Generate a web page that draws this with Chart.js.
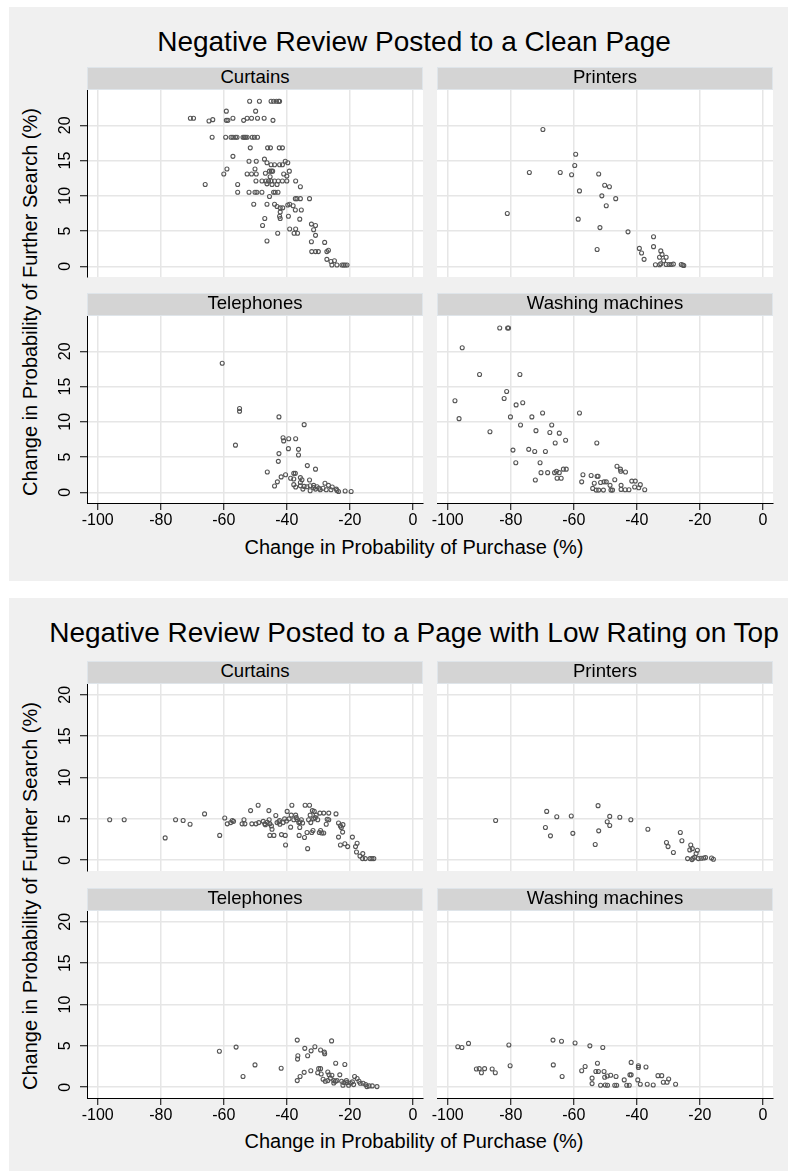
<!DOCTYPE html>
<html>
<head>
<meta charset="utf-8">
<script src="https://cdn.jsdelivr.net/npm/chart.js@4.4.1/dist/chart.umd.min.js"></script>
<style>
  html, body { margin: 0; padding: 0; background: #fff; }
  body { position: relative; width: 788px; height: 1171px; overflow: hidden; font-family: "Liberation Sans", Arial, sans-serif; color: #000; }
  .box { position: absolute; background: #f0f0f0; }
  .title { position: absolute; font-size: 28px; line-height: 28px; white-space: nowrap; transform: translateX(-50%); }
  .strip { position: absolute; box-sizing: border-box; background: #d4d4d4; border: 1px solid #dfe5ea; font-size: 18.6px; line-height: 17px; text-align: center; white-space: nowrap; }
  .xtitle { position: absolute; font-size: 20px; line-height: 20px; white-space: nowrap; transform: translateX(-50%); }
  .ytitle { position: absolute; font-size: 20px; line-height: 20px; white-space: nowrap; transform: translate(-50%, -50%) rotate(-90deg); }
  canvas { position: absolute; }
</style>
</head>
<body>
<script>
const figureTitles = ['Negative Review Posted to a Clean Page', 'Negative Review Posted to a Page with Low Rating on Top'];
const categories = ['Curtains', 'Printers', 'Telephones', 'Washing machines'];
const xTitle = 'Change in Probability of Purchase (%)';
const yTitle = 'Change in Probability of Further Search (%)';
const xTicks = [-100, -80, -60, -40, -20, 0];
const yTicks = [0, 5, 10, 15, 20];

// points are [change in purchase, change in further search]
const cleanCurtains = [
  [-51.8,23.4],[-48.7,23.4],[-45.0,23.4],[-44.2,23.4],[-43.3,23.4],[-42.6,23.4],[-42.3,23.4],
  [-59.2,22.0],[-49.9,22.0],
  [-70.6,21.0],[-69.6,21.0],[-64.7,20.6],[-63.5,20.8],[-59.2,20.7],[-58.7,20.7],[-57.1,21.0],[-53.7,20.7],
  [-52.6,21.0],[-51.2,21.0],[-49.3,21.0],[-47.2,21.0],[-44.4,20.7],
  [-63.7,18.3],[-59.4,18.3],[-57.7,18.3],[-57.1,18.3],[-56.3,18.3],[-55.8,18.3],[-53.9,18.3],[-53.5,18.3],
  [-53.1,18.3],[-52.6,18.3],[-51.0,18.3],[-50.3,18.3],[-49.3,18.3],
  [-51.6,16.8],[-46.1,16.8],[-45.2,16.8],[-42.4,16.8],[-41.4,16.8],
  [-57.1,15.6],
  [-52.0,14.9],[-49.7,14.9],[-47.1,15.2],[-46.3,14.7],[-45.0,14.4],[-43.9,14.4],[-42.3,14.4],[-41.4,14.4],
  [-40.5,14.9],[-39.7,14.7],
  [-59.0,13.8],[-50.1,13.8],
  [-60.0,13.1],[-52.6,13.1],[-51.2,13.1],[-49.7,13.1],[-46.8,13.2],[-45.5,13.5],[-44.9,13.5],[-44.5,13.5],
  [-45.3,12.7],[-41.0,13.1],[-40.0,12.8],[-39.2,13.5],
  [-49.8,12.1],[-47.9,12.1],[-46.6,12.1],[-45.8,12.1],[-45.0,12.1],[-43.9,12.1],[-42.7,12.1],[-41.4,12.1],
  [-40.0,12.1],[-37.2,12.1],
  [-65.9,11.6],[-55.6,11.6],[-46.3,11.7],[-44.7,11.6],[-43.1,11.6],[-35.7,11.3],
  [-55.6,10.5],[-52.0,10.5],[-50.1,10.5],[-49.5,10.5],[-47.9,10.5],[-44.2,10.5],[-43.7,10.5],[-42.8,10.5],
  [-45.5,9.9],
  [-37.3,9.6],[-36.8,9.6],[-35.7,9.6],[-32.8,9.6],
  [-50.5,8.8],[-46.3,8.8],[-43.9,8.8],[-43.1,8.5],[-42.1,8.3],[-41.3,8.3],[-39.7,8.7],[-39.1,8.8],[-38.0,8.6],
  [-37.3,8.0],[-35.4,8.0],[-42.1,7.7],
  [-42.3,7.1],[-42.1,6.8],[-39.5,7.1],[-47.0,6.8],
  [-35.9,6.7],
  [-32.2,6.0],[-47.7,5.8],[-30.9,5.8],
  [-39.1,5.3],[-37.2,5.3],[-31.5,5.2],
  [-42.9,4.7],[-37.7,4.7],[-36.6,4.7],[-30.9,4.4],
  [-46.3,3.6],[-32.2,3.5],[-28.0,3.4],
  [-32.1,2.1],[-30.9,2.1],[-30.0,2.1],[-27.3,2.1],[-26.8,2.3],
  [-27.3,1.0],[-26.0,0.7],[-24.9,0.8],
  [-25.7,0.2],[-24.1,0.2],[-22.5,0.2],[-22.0,0.2],[-21.5,0.2],[-20.9,0.2]
];
const cleanPrinters = [
  [-69.8,19.4],[-59.4,15.9],[-59.7,14.3],[-74.1,13.3],[-64.3,13.3],[-60.7,13.0],[-52.1,13.1],
  [-50.2,11.5],[-48.7,11.3],[-58.2,10.7],[-51.1,10.0],[-46.7,9.6],[-49.7,8.6],[-81.1,7.5],
  [-58.6,6.7],[-51.7,5.5],[-42.8,4.9],[-34.7,4.2],[-34.7,2.8],[-52.6,2.4],[-39.2,2.55],
  [-38.5,1.9],[-37.7,1.0],[-32.4,2.2],[-32.0,1.7],[-32.8,1.3],[-30.7,1.3],[-31.5,0.8],
  [-34.1,0.24],[-32.8,0.24],[-32.4,0.38],[-30.7,0.28],[-29.8,0.28],[-29.1,0.28],[-28.4,0.33],
  [-25.9,0.28],[-25.4,0.2],[-25.1,0.14]
];
const cleanTelephones = [
  [-60.5,18.3],[-55.0,11.9],[-55.0,11.5],[-42.5,10.7],[-34.5,9.6],[-56.3,6.7],[-41.2,7.75],
  [-41.0,7.3],[-39.4,7.6],[-37.2,7.6],[-39.5,6.2],[-36.3,6.1],[-36.3,5.3],[-42.5,5.5],[-42.7,4.4],
  [-33.5,3.8],[-30.9,3.3],[-46.2,2.9],[-37.8,2.7],[-37.3,2.7],[-40.4,2.5],[-41.8,2.2],[-38.8,2.0],
  [-37.8,1.9],[-35.7,2.1],[-35.2,1.8],[-32.8,1.75],[-43.0,1.5],[-43.9,0.9],[-37.8,1.1],[-37.2,0.76],
  [-35.7,0.95],[-34.5,0.85],[-33.6,0.8],[-32.6,0.95],[-31.5,0.7],[-30.4,0.8],[-34.9,0.47],[-32.6,0.24],
  [-30.9,0.47],[-29.8,0.6],[-29.4,0.38],[-28.5,0.6],[-27.9,1.3],[-26.8,1.0],[-25.6,0.76],[-27.5,0.38],
  [-26.0,0.38],[-24.3,0.47],[-24.1,0.28],[-23.6,0.14],[-21.5,0.2],[-19.6,0.14],[-35.7,1.4],[-31.5,1.0]
];
const cleanWashers = [
  [-83.5,23.3],[-81.0,23.3],[-80.7,23.3],[-95.4,20.5],[-89.9,16.7],[-77.1,16.7],[-81.3,14.3],
  [-82.1,13.3],[-97.7,13.0],[-78.3,12.4],[-76.2,12.7],[-69.9,11.25],[-58.2,11.25],[-80.1,10.7],
  [-73.3,10.7],[-96.4,10.45],[-76.9,9.55],[-67.0,9.55],[-86.6,8.6],[-72.0,8.75],[-67.6,8.5],
  [-64.6,8.4],[-62.6,7.4],[-65.9,7.0],[-52.7,7.0],[-79.3,6.0],[-74.3,6.1],[-72.4,5.8],[-69.0,5.8],
  [-78.4,4.2],[-70.7,4.2],[-46.3,3.7],[-45.2,3.3],[-45.1,3.0],[-43.6,2.9],[-63.3,3.3],[-62.4,3.3],
  [-70.4,2.8],[-68.3,2.8],[-66.1,2.8],[-65.5,3.0],[-64.6,2.8],[-65.3,2.0],[-64.0,2.0],[-72.2,1.75],
  [-57.1,2.5],[-57.5,1.5],[-54.5,2.4],[-52.6,2.3],[-52.3,2.3],[-53.5,1.3],[-51.5,1.4],[-50.4,1.5],
  [-49.7,1.5],[-47.0,1.8],[-48.5,1.0],[-45.0,1.0],[-41.6,1.6],[-40.5,1.6],[-38.9,1.1],[-40.7,0.76],
  [-39.4,0.66],[-37.5,0.38],[-54.0,0.57],[-52.9,0.33],[-52.1,0.33],[-50.6,0.33],[-48.2,0.33],
  [-47.7,0.33],[-45.0,0.43],[-43.7,0.38],[-42.5,0.38]
];
const lowCurtains = [
  [-96.2,4.9],[-91.6,4.9],[-78.6,2.7],[-75.3,4.9],[-72.9,4.8],[-70.7,4.35],[-66.1,5.6],[-61.3,3.0],
  [-59.7,5.1],[-58.9,4.4],[-57.8,4.55],[-57.3,4.8],[-56.9,4.7],[-54.2,4.4],[-53.6,4.9],[-53.3,4.4],
  [-51.5,6.0],[-51.1,4.4],[-49.8,4.4],[-49.1,6.65],[-48.9,4.55],[-47.0,4.4],[-46.2,4.6],[-45.7,6.0],
  [-45.6,4.9],[-45.4,4.4],[-44.9,4.15],[-44.7,3.75],[-45.4,3.0],[-44.1,3.0],[-43.5,5.4],[-43.1,4.55],
  [-42.3,4.8],[-42.2,4.35],[-41.7,3.1],[-40.5,3.0],[-40.4,1.85],[-40.7,5.0],[-39.9,5.9],[-39.3,5.0],
  [-38.6,5.45],[-38.4,6.65],[-38.8,4.0],[-37.8,4.9],[-37.2,5.45],[-36.7,4.9],[-36.2,4.55],[-35.9,3.95],
  [-36.1,3.0],[-35.4,4.9],[-35.0,4.5],[-34.4,2.75],[-34.2,6.65],[-33.6,3.35],[-33.4,1.4],[-32.8,6.65],
  [-32.6,5.45],[-32.4,4.55],[-31.9,6.0],[-31.5,5.0],[-31.7,3.6],[-32.1,3.35],[-31.3,5.9],[-30.7,5.45],
  [-30.2,4.9],[-29.7,3.35],[-29.3,3.6],[-28.9,3.3],[-29.5,5.7],[-28.3,5.7],[-27.5,4.35],[-27.2,4.95],
  [-26.7,5.7],[-26.7,4.9],[-28.3,3.3],[-24.4,5.6],[-23.6,4.5],[-23.0,4.15],[-22.2,4.3],[-22.3,3.4],
  [-22.7,3.95],[-23.6,2.8],[-23.0,1.85],[-21.6,2.0],[-20.7,1.65],[-19.2,2.8],[-17.7,2.05],[-18.2,1.65],
  [-17.9,1.0],[-16.8,0.5],[-15.9,0.8],[-16.0,0.2],[-15.1,0.2],[-13.6,0.2],[-13.0,0.2],[-12.4,0.2],
  [-47.5,4.7],[-46.8,4.3],[-42.5,4.65],[-41.2,4.55],[-40.1,4.75],[-37.0,5.15],[-35.9,4.65],[-33.1,4.9],
  [-31.0,5.15]
];
const lowPrinters = [
  [-84.8,4.8],[-68.6,5.9],[-69.0,3.95],[-67.4,2.95],[-65.4,5.25],[-60.8,5.35],[-60.3,3.25],[-53.2,1.9],
  [-52.3,6.6],[-52.1,3.55],[-49.4,4.65],[-48.6,5.3],[-48.6,4.2],[-45.4,5.2],[-41.9,4.9],[-36.5,3.75],
  [-30.6,2.15],[-30.1,1.65],[-28.4,0.93],[-26.2,3.35],[-25.7,2.35],[-23.9,0.2],[-22.9,1.85],[-23.2,1.25],
  [-22.4,1.4],[-22.5,0.08],[-21.7,0.36],[-21.2,0.8],[-20.8,1.2],[-20.5,0.2],[-19.6,0.24],[-18.8,0.28],
  [-18.2,0.32],[-16.3,0.28],[-15.7,0.12],[-22.2,0.24]
];
const lowTelephones = [
  [-61.4,4.35],[-56.1,4.85],[-53.9,1.3],[-50.1,2.7],[-41.8,2.3],[-36.7,5.7],[-36.5,3.8],[-36.6,3.4],
  [-34.3,4.7],[-33.4,3.8],[-32.3,4.4],[-31.1,4.9],[-29.3,4.5],[-28.1,4.25],[-28.0,4.05],[-25.8,5.6],
  [-24.5,2.9],[-21.6,2.75],[-36.7,0.8],[-35.8,1.3],[-34.5,1.8],[-32.4,2.0],[-30.2,1.75],[-29.9,2.25],
  [-29.3,2.25],[-29.1,1.6],[-28.5,0.97],[-27.8,0.73],[-27.0,1.85],[-26.6,1.5],[-26.2,1.1],[-25.7,1.45],
  [-25.1,0.52],[-24.6,0.73],[-24.1,0.8],[-23.2,1.5],[-22.6,0.73],[-21.9,0.56],[-22.2,0.24],[-21.1,0.8],
  [-20.9,0.56],[-20.4,0.24],[-19.8,0.52],[-19.2,0.65],[-18.8,0.32],[-18.5,1.3],[-17.7,1.05],[-17.1,0.73],
  [-16.7,0.48],[-15.8,0.48],[-15.0,0.32],[-14.6,0.08],[-13.9,0.16],[-12.9,0.16],[-11.4,0.08],[-27.0,0.8],
  [-25.1,0.8]
];
const lowWashers = [
  [-96.8,4.9],[-95.5,4.8],[-93.4,5.3],[-90.9,2.2],[-90.0,2.25],[-89.3,1.75],[-88.3,2.25],[-85.9,2.2],
  [-84.9,1.75],[-80.6,5.1],[-80.2,2.6],[-66.6,5.7],[-66.5,2.7],[-63.9,5.55],[-63.7,1.3],[-59.6,5.35],
  [-57.5,2.0],[-56.4,2.5],[-54.9,5.0],[-54.2,1.1],[-54.2,0.44],[-53.0,1.9],[-52.5,2.9],[-52.2,1.9],
  [-51.5,0.24],[-50.8,4.8],[-50.4,1.9],[-50.2,1.2],[-50.0,0.28],[-49.4,1.35],[-49.3,0.24],[-48.3,1.45],
  [-47.0,0.24],[-46.6,1.3],[-44.0,0.89],[-43.2,0.24],[-42.4,0.24],[-41.8,3.0],[-41.8,1.5],[-42.2,1.5],
  [-39.5,2.6],[-39.5,2.4],[-37.1,2.45],[-39.7,0.89],[-38.9,0.36],[-36.7,0.36],[-34.8,0.28],[-33.3,1.4],
  [-32.1,1.4],[-31.6,0.6],[-30.4,0.6],[-29.9,1.0],[-27.7,0.36],[-46.4,0.24]
];

const figureData = [
  [cleanCurtains, cleanPrinters, cleanTelephones, cleanWashers],
  [lowCurtains, lowPrinters, lowTelephones, lowWashers]
];

// layout (pixels)
const colLeft = [87, 437];
const plotW = 336, plotH = 187;
const boxTop = [7, 598], boxBottom = [581, 1171];
const rowTop = [[90, 316], [684, 911]];
const titleTop = [28, 619];
const xTitleTop = [537, 1131];
const yTitleMid = [302, 896];
const centerX = 414;
const yRange = [[-1.5, 25.0], [-1.3, 21.3]];
const xRange = [-103.4, 3.2];
const ML = 45, MR = 16, MT = 4, MB = 32;

Chart.defaults.font.family = '"Liberation Sans", Arial, sans-serif';
Chart.defaults.color = '#000';

function addDiv(cls, text, css) {
  const d = document.createElement('div');
  d.className = cls;
  d.textContent = text;
  Object.assign(d.style, css);
  document.body.appendChild(d);
  return d;
}

const plotBg = {
  id: 'plotBg',
  beforeDraw(chart) {
    const { ctx, chartArea: a } = chart;
    ctx.save();
    ctx.fillStyle = '#fff';
    ctx.fillRect(a.left, a.top, a.right - a.left, a.bottom - a.top);
    ctx.restore();
  }
};

// rotated y tick labels, as Stata draws them
const yLabels = {
  id: 'yLabels',
  afterDraw(chart, args, opts) {
    if (!opts.show) return;
    const s = chart.scales.y;
    const ctx = chart.ctx;
    ctx.save();
    ctx.font = '16px "Liberation Sans", Arial, sans-serif';
    ctx.fillStyle = '#000';
    ctx.textAlign = 'center';
    ctx.textBaseline = 'alphabetic';
    s.ticks.forEach(t => {
      ctx.save();
      ctx.translate(s.right - 17, s.getPixelForValue(t.value));
      ctx.rotate(-Math.PI / 2);
      ctx.fillText(String(t.value), 0, 0);
      ctx.restore();
    });
    ctx.restore();
  }
};

function makePanel(f, i) {
  const col = i % 2, row = Math.floor(i / 2);
  const left = colLeft[col], top = rowTop[f][row];

  addDiv('strip', categories[i], {
    left: left + 'px', top: (top - 23) + 'px', width: plotW + 'px', height: '23px'
  });

  const canvas = document.createElement('canvas');
  canvas.width = plotW + ML + MR;
  canvas.height = plotH + MT + MB;
  canvas.style.left = (left - ML) + 'px';
  canvas.style.top = (top - MT) + 'px';
  document.body.appendChild(canvas);

  const showX = row === 1, showY = col === 0;

  new Chart(canvas, {
    type: 'scatter',
    data: {
      datasets: [{
        data: figureData[f][i].map(p => ({ x: p[0], y: p[1] })),
        pointRadius: 2,
        pointHoverRadius: 2,
        borderWidth: 1.1,
        borderColor: '#555',
        backgroundColor: 'rgba(255,255,255,0)'
      }]
    },
    options: {
      responsive: false,
      animation: false,
      devicePixelRatio: 1,
      layout: { padding: { left: 0, right: MR, top: MT, bottom: 0 } },
      plugins: {
        legend: { display: false },
        tooltip: { enabled: false },
        yLabels: { show: showY }
      },
      scales: {
        x: {
          type: 'linear',
          min: xRange[0],
          max: xRange[1],
          afterBuildTicks: s => { s.ticks = xTicks.map(v => ({ value: v })); },
          afterFit: s => { s.height = MB; s.paddingLeft = 0; s.paddingRight = 0; },
          ticks: { display: showX, font: { size: 16 }, color: '#000', padding: 1, maxRotation: 0, minRotation: 0, autoSkip: false },
          grid: { color: '#e6e6e6', lineWidth: 1.5, drawTicks: showX, tickLength: 7, tickColor: '#000', tickWidth: 1 },
          border: { display: showX, color: '#000', width: 1 }
        },
        y: {
          type: 'linear',
          min: yRange[f][0],
          max: yRange[f][1],
          afterBuildTicks: s => { s.ticks = yTicks.map(v => ({ value: v })); },
          afterFit: s => { s.width = ML; s.paddingTop = 0; s.paddingBottom = 0; },
          ticks: { display: false },
          grid: { color: '#e6e6e6', lineWidth: 1.5, drawTicks: showY, tickLength: 7, tickColor: '#000', tickWidth: 1 },
          border: { display: showY, color: '#000', width: 1 }
        }
      }
    },
    plugins: [plotBg, yLabels]
  });
}

for (let f = 0; f < 2; f++) {
  addDiv('box', '', {
    left: '9px', top: boxTop[f] + 'px', width: '779px', height: (boxBottom[f] - boxTop[f]) + 'px'
  });
  addDiv('title', figureTitles[f], { left: centerX + 'px', top: titleTop[f] + 'px' });
  for (let i = 0; i < 4; i++) makePanel(f, i);
  addDiv('xtitle', xTitle, { left: centerX + 'px', top: xTitleTop[f] + 'px' });
  addDiv('ytitle', yTitle, { left: '30px', top: yTitleMid[f] + 'px' });
}
</script>
</body>
</html>
